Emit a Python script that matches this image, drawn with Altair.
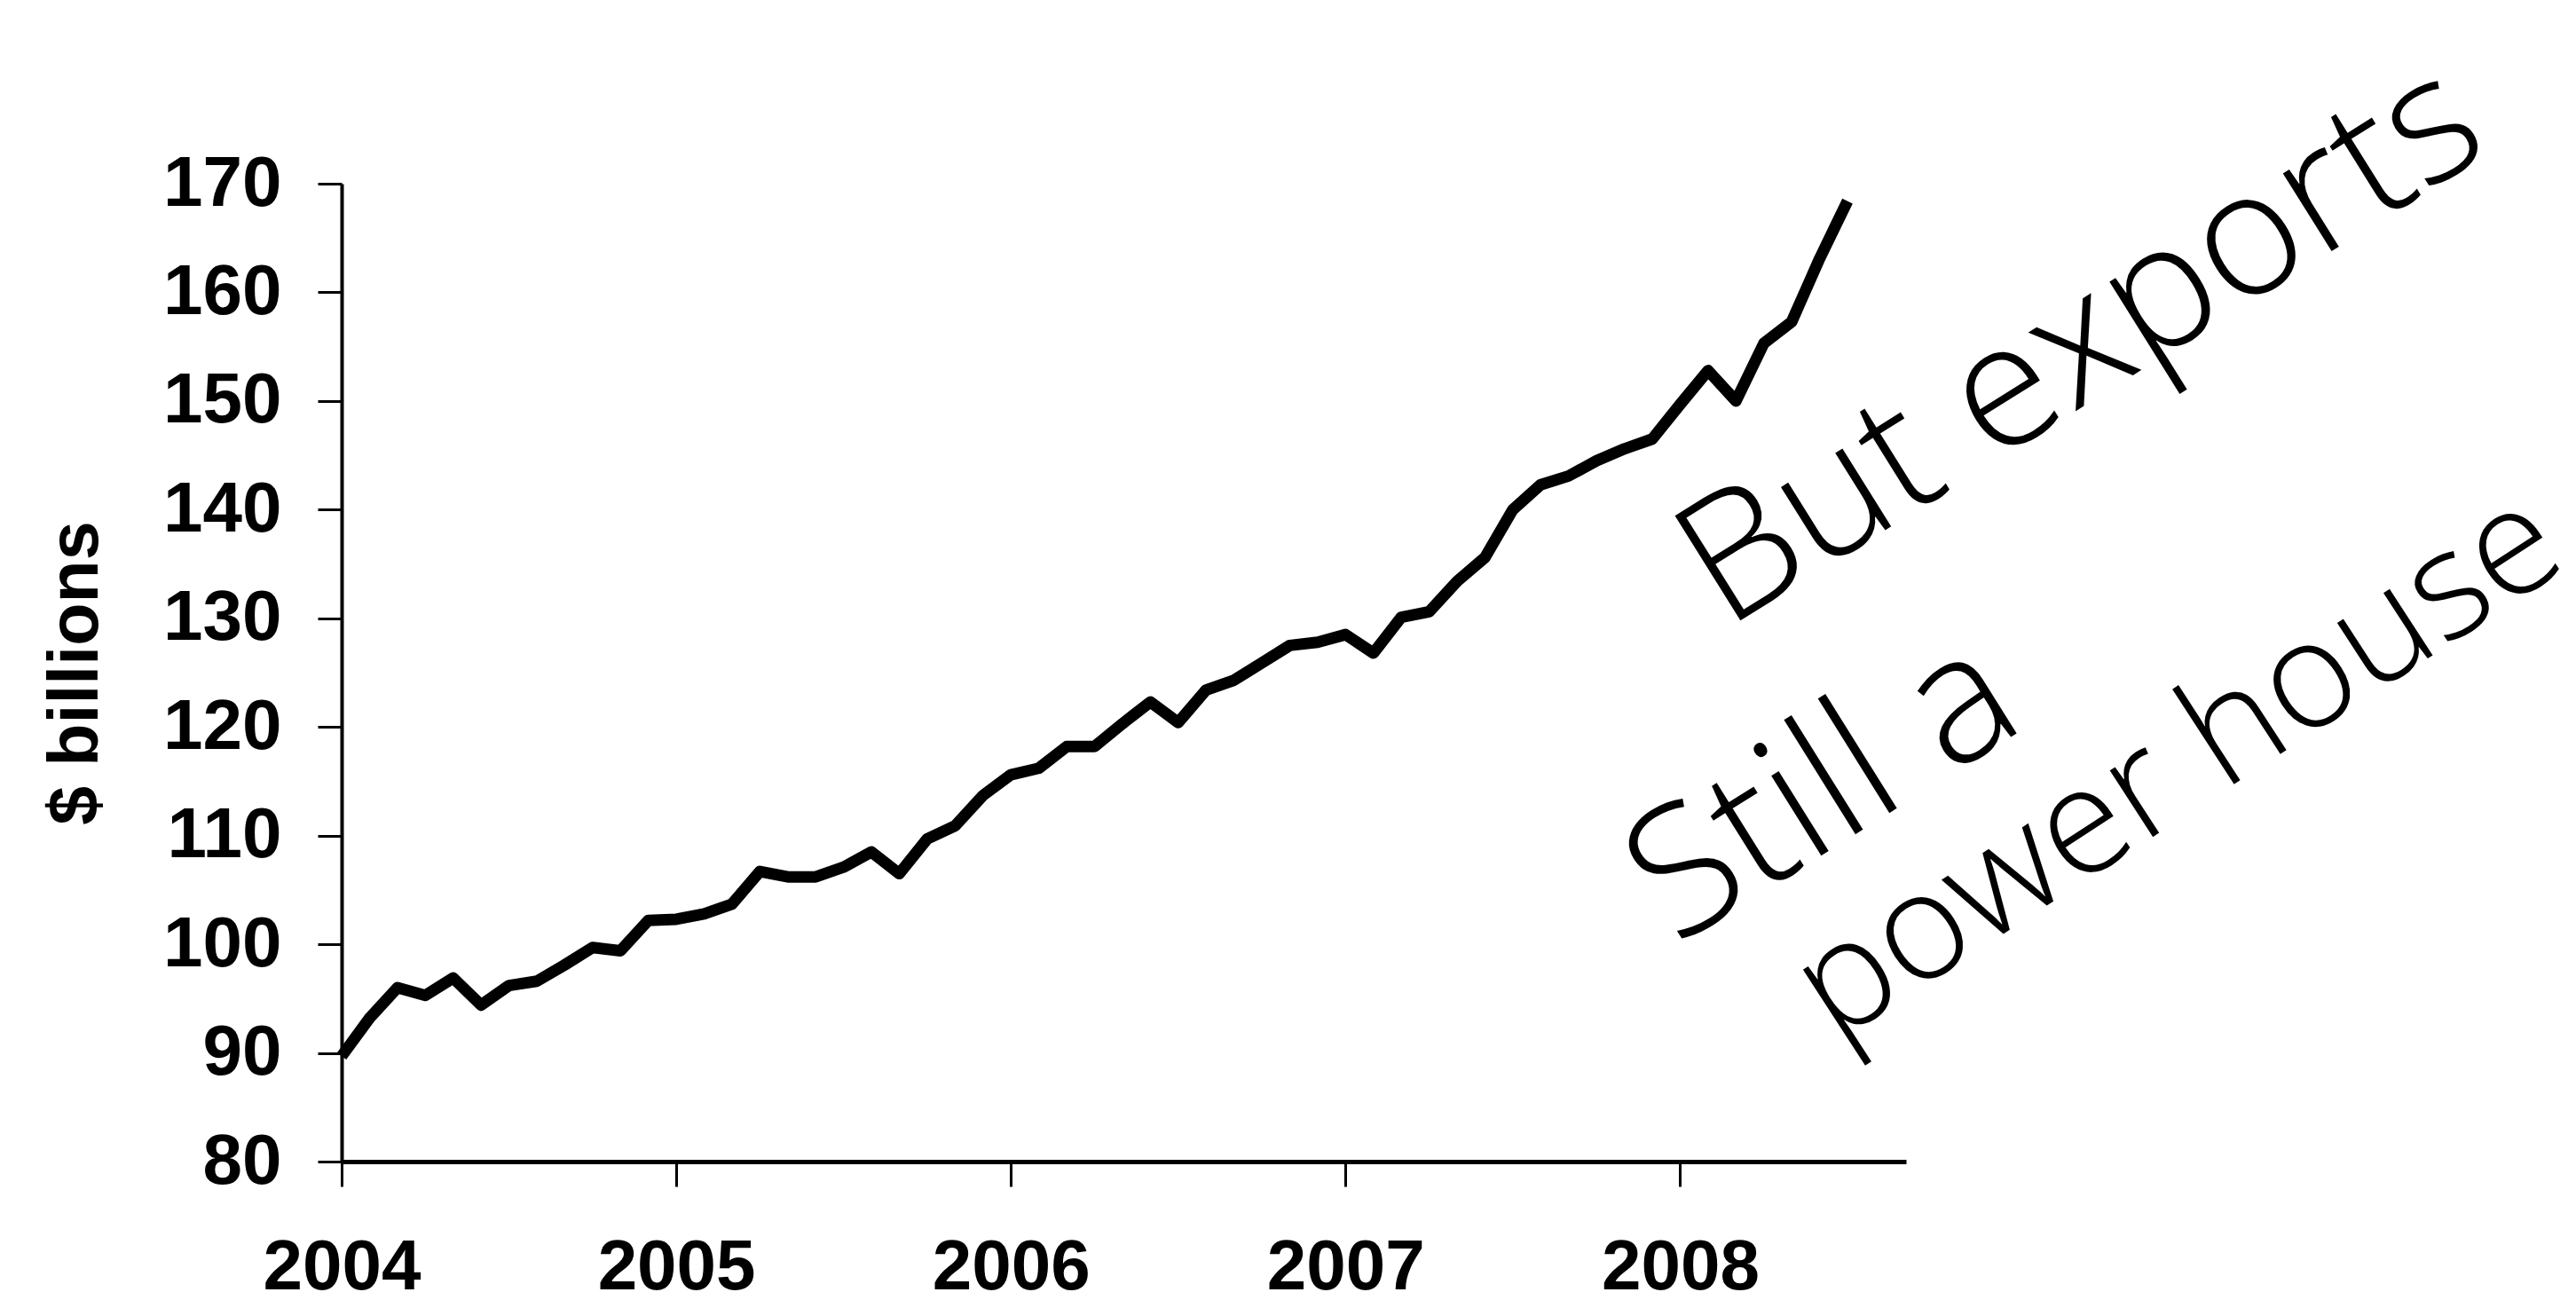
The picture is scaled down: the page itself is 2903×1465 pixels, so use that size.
import altair as alt
import pandas as pd

# Monthly exports, Jan 2004 .. Jul 2008 ($ billions)
values = [89.7, 93.2, 96.0, 95.3, 96.9, 94.4, 96.2, 96.6, 98.1, 99.7, 99.4, 102.2,
          102.3, 102.8, 103.7, 106.7, 106.2, 106.2, 107.1, 108.5, 106.5, 109.7, 110.9, 113.7,
          115.6, 116.2, 118.2, 118.2, 120.3, 122.3, 120.4, 123.4, 124.3, 125.9, 127.5, 127.8,
          128.5, 126.8, 130.1, 130.6, 133.4, 135.6, 140.0, 142.3, 143.1, 144.5, 145.6, 146.5,
          149.7, 152.8, 150.0, 155.3, 157.3, 163.1, 168.4]
months = [2004 + i / 12 for i in range(len(values))]
year_ticks = [2004, 2005, 2006, 2007, 2008]
y_ticks = [80, 90, 100, 110, 120, 130, 140, 150, 160, 170]

notes = ["But exports", "Still a", "power house"]
note_x = [2009.20, 2008.43, 2009.49]
note_y = [155.1, 114.1, 116.3]
note_size = [195, 200, 168]
note_angle = [328, 328, 327]

df = pd.DataFrame({"t": months, "v": values})
nd = pd.DataFrame({"label": notes, "x": note_x, "y": note_y, "size": note_size,
                   "angle": note_angle})

xs = alt.Scale(domain=[2004, 2008.675], nice=False, zero=False)
ys = alt.Scale(domain=[80, 170], nice=False, zero=False)

line = alt.Chart(df).mark_line(color="black", strokeWidth=13, strokeJoin="round").encode(
    x=alt.X("t:Q", scale=xs,
            axis=alt.Axis(values=year_ticks, format="d", title=None, grid=False,
                          tickSize=28, labelPadding=52, domainWidth=5,
                          labelFlush=False, labelOverlap=False)),
    y=alt.Y("v:Q", scale=ys,
            axis=alt.Axis(values=y_ticks, title="$ billions", grid=False,
                          tickSize=27, labelPadding=41, domainWidth=4,
                          labelOverlap=False,
                          titleX=-259, titleY=551, titleAngle=270,
                          titleBaseline="bottom", titleAlign="center",
                          titleFontSize=79, titleFont="Liberation Sans",
                          titleFontWeight="bold", titleColor="black")),
)

text = alt.Chart(nd).mark_text(align="center", baseline="middle",
                               font="Open Sans", fontWeight=300, color="black").encode(
    x=alt.X("x:Q", scale=xs),
    y=alt.Y("y:Q", scale=ys),
    text="label:N",
    size=alt.Size("size:Q", scale=None, legend=None),
    angle=alt.Angle("angle:Q", scale=None),
)

chart = alt.layer(line, text).properties(
    width=1763, height=1102,
    autosize=alt.AutoSizeParams(type="none"),
    padding={"left": 377, "top": 199, "right": 747, "bottom": 175},
    background="white",
).configure_view(stroke=None).configure_axis(
    domainColor="black", tickColor="black", tickWidth=3,
    labelFont="Liberation Sans", labelFontWeight="bold", labelFontSize=80,
    labelColor="black",
)

chart.save("out.html", embed_options={"renderer": "svg", "actions": False})
